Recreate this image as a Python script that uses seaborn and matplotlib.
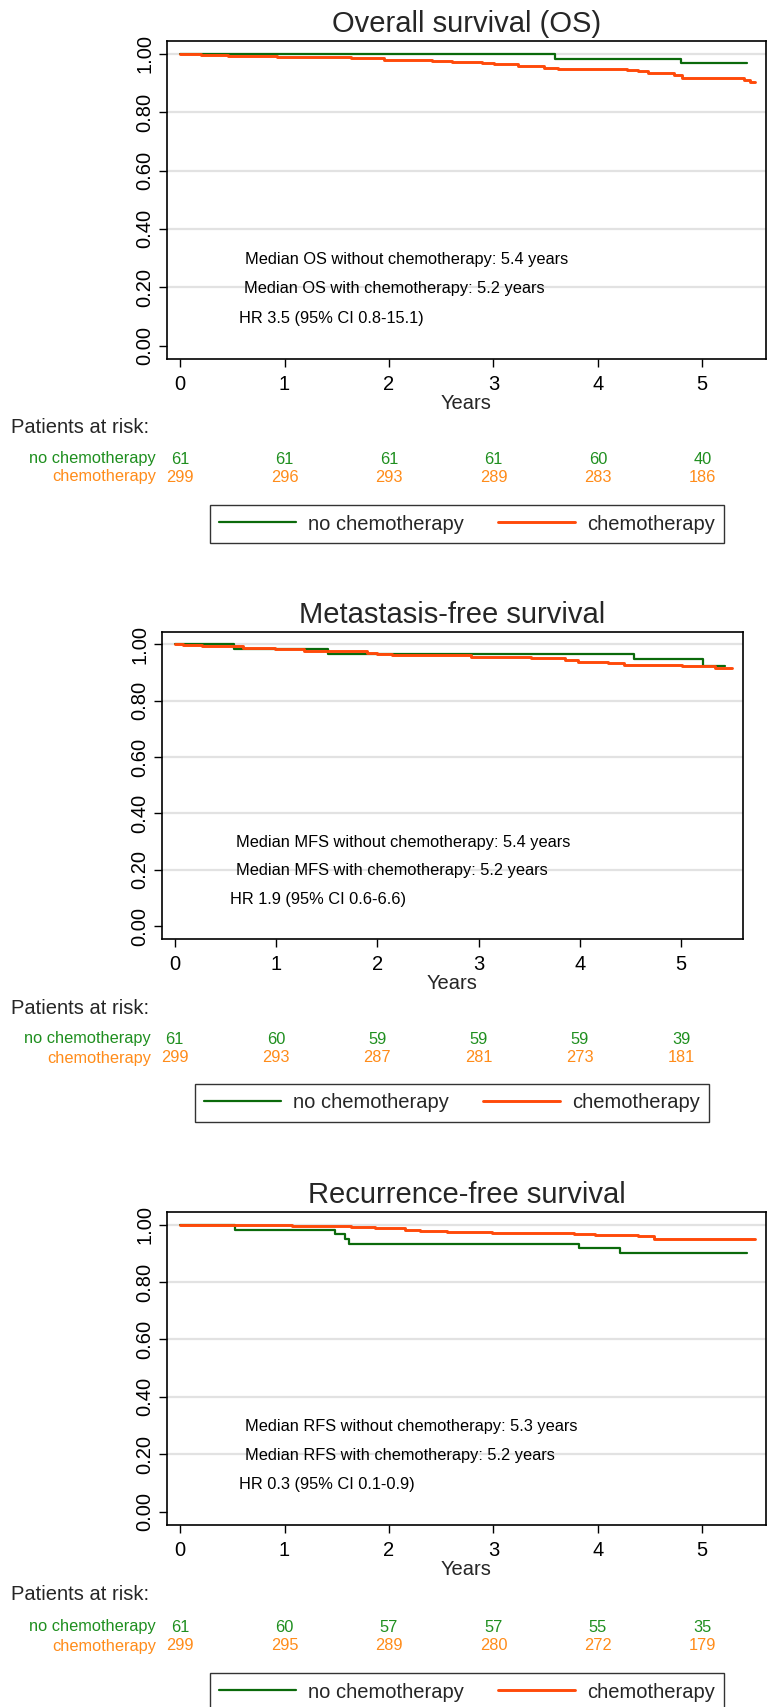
import numpy as np
import pandas as pd
import matplotlib
matplotlib.use("Agg")
import matplotlib.pyplot as plt
from matplotlib.lines import Line2D
from matplotlib.transforms import blended_transform_factory
import seaborn as sns

# ---- data ----
groups = ["no chemotherapy", "chemotherapy"]
years_ticks = [0, 1, 2, 3, 4, 5]

os_nochemo_t = [0, 3.59, 4.80, 5.43]
os_nochemo_s = [1.0, 0.984, 0.967, 0.967]
os_chemo_t = [0, 0.20, 0.46, 0.93, 1.64, 1.95, 2.41, 2.60, 2.89, 3.01, 3.24, 3.48, 3.62,
              4.28, 4.38, 4.48, 4.73, 4.81, 5.40, 5.46, 5.50]
os_chemo_s = [1.0, 0.997, 0.993, 0.990, 0.986, 0.979, 0.975, 0.972, 0.968, 0.965, 0.958, 0.951, 0.948,
              0.944, 0.940, 0.933, 0.926, 0.917, 0.912, 0.905, 0.905]

mfs_nochemo_t = [0, 0.59, 1.51, 4.53, 5.22, 5.43]
mfs_nochemo_s = [1.0, 0.983, 0.967, 0.949, 0.922, 0.922]
mfs_chemo_t = [0, 0.08, 0.27, 0.67, 0.99, 1.28, 1.50, 1.90, 2.00, 2.15, 2.72, 2.93, 3.29, 3.52,
               3.85, 3.98, 4.28, 4.44, 5.01, 5.33, 5.50]
mfs_chemo_s = [1.0, 0.997, 0.994, 0.988, 0.983, 0.978, 0.975, 0.971, 0.967, 0.964, 0.961, 0.957, 0.954, 0.950,
               0.946, 0.939, 0.934, 0.927, 0.923, 0.915, 0.915]

rfs_nochemo_t = [0, 0.53, 1.48, 1.58, 1.62, 3.82, 4.21, 5.43]
rfs_nochemo_s = [1.0, 0.983, 0.967, 0.950, 0.934, 0.917, 0.900, 0.900]
rfs_chemo_t = [0, 0.74, 1.07, 1.64, 1.87, 2.15, 2.30, 2.56, 2.99, 3.77, 3.97, 4.38, 4.54, 5.50]
rfs_chemo_s = [1.0, 0.997, 0.994, 0.991, 0.987, 0.983, 0.979, 0.976, 0.971, 0.968, 0.964, 0.959, 0.951, 0.951]

os_risk_nochemo = [61, 61, 61, 61, 60, 40]
os_risk_chemo = [299, 296, 293, 289, 283, 186]
mfs_risk_nochemo = [61, 60, 59, 59, 59, 39]
mfs_risk_chemo = [299, 293, 287, 281, 273, 181]
rfs_risk_nochemo = [61, 60, 57, 57, 55, 35]
rfs_risk_chemo = [299, 295, 289, 280, 272, 179]

titles = ["Overall survival (OS)", "Metastasis-free survival", "Recurrence-free survival"]
notes = [
    ["Median OS without chemotherapy: 5.4 years", "Median OS with chemotherapy: 5.2 years", "HR 3.5 (95% CI 0.8-15.1)"],
    ["Median MFS without chemotherapy: 5.4 years", "Median MFS with chemotherapy: 5.2 years", "HR 1.9 (95% CI 0.6-6.6)"],
    ["Median RFS without chemotherapy: 5.3 years", "Median RFS with chemotherapy: 5.2 years", "HR 0.3 (95% CI 0.1-0.9)"],
]

line_colors = {"no chemotherapy": "#0b6a0b", "chemotherapy": "#ff4a0a"}
line_widths = {"no chemotherapy": 1.6, "chemotherapy": 2.1}
risk_colors = {"no chemotherapy": "#1f8f1f", "chemotherapy": "#ff8c1a"}

sns.set_theme(style="white")
plt.rcParams["font.family"] = ["Liberation Sans", "DejaVu Sans"]

W, H = 768, 1707
fig = plt.figure(figsize=(W / 100, H / 100), dpi=100)
fx = lambda px: px / W
fy = lambda px: 1 - px / H

# layout in pixels: (left, top, right, bottom)
boxes = [(167, 41, 766, 359), (162, 632, 743, 939), (167, 1212, 766, 1525)]
risk_y = [(427, 459, 477), (1009, 1039, 1058), (1595, 1627, 1646)]
label_right = [156, 151, 156]
legend_pos = [(467, 524), (452, 1103), (467, 1692)]
note_x = [(0.62, 0.61, 0.565), (0.61, 0.61, 0.55), (0.62, 0.62, 0.565)]
note_y = [0.296, 0.196, 0.094]

curves = [
    ((os_nochemo_t, os_nochemo_s), (os_chemo_t, os_chemo_s), os_risk_nochemo, os_risk_chemo),
    ((mfs_nochemo_t, mfs_nochemo_s), (mfs_chemo_t, mfs_chemo_s), mfs_risk_nochemo, mfs_risk_chemo),
    ((rfs_nochemo_t, rfs_nochemo_s), (rfs_chemo_t, rfs_chemo_s), rfs_risk_nochemo, rfs_risk_chemo),
]

for i, (nc, ch, r_nc, r_ch) in enumerate(curves):
    l, t, r, b = boxes[i]
    ax = fig.add_axes([fx(l), fy(b), (r - l) / W, (b - t) / H])

    df = pd.concat([
        pd.DataFrame({"Years": nc[0], "Survival": nc[1], "group": groups[0]}),
        pd.DataFrame({"Years": ch[0], "Survival": ch[1], "group": groups[1]}),
    ])
    sns.lineplot(data=df, x="Years", y="Survival", hue="group", palette=line_colors,
                 estimator=None, drawstyle="steps-post", linewidth=1.7, legend=False, ax=ax)
    for ln, g in zip(ax.get_lines(), groups):
        ln.set_linewidth(line_widths[g])

    ax.set_xlim(-0.125, 5.61)
    ax.set_ylim(-0.046, 1.044)
    ax.set_xticks(years_ticks)
    ax.set_yticks([0, 0.2, 0.4, 0.6, 0.8, 1.0])
    ax.set_yticklabels(["0.00", "0.20", "0.40", "0.60", "0.80", "1.00"])
    ax.tick_params(axis="y", labelrotation=90, direction="out", length=6, width=1,
                   labelsize=14.5, pad=3, left=True, colors="black")
    for lab in ax.get_yticklabels():
        lab.set_va("center")
    ax.tick_params(axis="x", direction="out", length=6, width=1, labelsize=14.5,
                   pad=5.5, bottom=True, colors="black")
    ax.yaxis.grid(True, color="#e2e2e2", linewidth=1.6)
    ax.get_ygridlines()[0].set_visible(False)
    ax.set_axisbelow(True)
    for sp in ax.spines.values():
        sp.set_color("black")
        sp.set_linewidth(1.2)
    ax.set_ylabel("")
    ax.set_xlabel("Years", fontsize=14.5, labelpad=0)
    ax.set_title(titles[i], fontsize=21, pad=6.5)

    for txt, xx, yy in zip(notes[i], note_x[i], note_y):
        ax.text(xx, yy, txt, fontsize=11.8, va="center", ha="left", color="black")

    # patients at risk table
    py, row1, row2 = risk_y[i]
    fig.text(fx(11), fy(py), "Patients at risk:", fontsize=14.5, va="center", ha="left")
    fig.text(fx(label_right[i]), fy(row1), groups[0], fontsize=11.8, va="center", ha="right",
             color=risk_colors[groups[0]])
    fig.text(fx(label_right[i]), fy(row2), groups[1], fontsize=11.8, va="center", ha="right",
             color=risk_colors[groups[1]])
    trans = blended_transform_factory(ax.transData, fig.transFigure)
    for yr, a, c in zip(years_ticks, r_nc, r_ch):
        ax.text(yr, fy(row1), str(a), transform=trans, fontsize=11.8, ha="center", va="center",
                color=risk_colors[groups[0]], clip_on=False)
        ax.text(yr, fy(row2), str(c), transform=trans, fontsize=11.8, ha="center", va="center",
                color=risk_colors[groups[1]], clip_on=False)

    handles = [Line2D([], [], color=line_colors[g], linewidth=line_widths[g]) for g in groups]
    lx, ly = legend_pos[i]
    leg = fig.legend(handles, groups, loc="center", bbox_to_anchor=(fx(lx), fy(ly)), ncol=2,
                     frameon=True, fancybox=False, edgecolor="black", fontsize=14.5,
                     handlelength=3.8, handletextpad=0.6, columnspacing=1.7, borderpad=0.45)
    leg.get_frame().set_linewidth(1.0)

fig.savefig("out.png", dpi=100, facecolor="white")
